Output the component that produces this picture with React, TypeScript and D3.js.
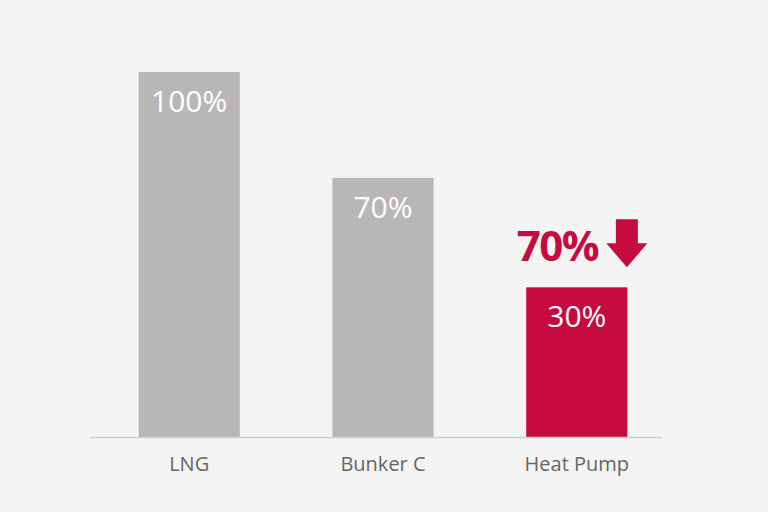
import { useEffect, useRef } from "react"
import * as d3 from "d3"

// categories and values
const CATEGORIES = ["LNG", "Bunker C", "Heat Pump"]
const VALUE_LABELS = ["100%", "70%", "30%"]
// drawn bar heights (the picture's bars are not to scale with their labels)
const BAR_HEIGHTS = [100, 71, 41]
const REDUCTION_LABEL = "70%"

const GRAY = "#b8b6b6"
const RED = "#c60c3f"
const BG = "#f4f4f4"
const TEXT = "#666666"
const FONT = "'Open Sans', 'Noto Sans', sans-serif"

export default function App() {
  const ref = useRef<SVGSVGElement>(null)

  useEffect(() => {
    if (!ref.current) return
    const W = 768
    const H = 512
    const svg = d3.select(ref.current)
    svg.selectAll("*").remove()
    svg.attr("width", W).attr("height", H).attr("viewBox", `0 0 ${W} ${H}`)

    svg.append("rect").attr("width", W).attr("height", H).attr("fill", BG)

    const x = d3.scaleBand<string>().domain(CATEGORIES).range([46, 720]).paddingInner(0.478).paddingOuter(0.478)
    const y = d3.scaleLinear().domain([0, 100]).range([437, 72])

    // Bars
    svg
      .append("g")
      .selectAll("rect")
      .data(CATEGORIES)
      .join("rect")
      .attr("x", (d) => x(d)!)
      .attr("width", x.bandwidth())
      .attr("y", (_, i) => y(BAR_HEIGHTS[i]))
      .attr("height", (_, i) => y(0) - y(BAR_HEIGHTS[i]))
      .attr("fill", (_, i) => (i === CATEGORIES.length - 1 ? RED : GRAY))

    // Baseline
    svg
      .append("line")
      .attr("x1", 90)
      .attr("x2", 662)
      .attr("y1", y(0) + 0.5)
      .attr("y2", y(0) + 0.5)
      .attr("stroke", "#cfcfcf")
      .attr("stroke-width", 1.5)

    // Value labels inside the bars
    svg
      .append("g")
      .selectAll("text")
      .data(CATEGORIES)
      .join("text")
      .attr("x", (d) => x(d)! + x.bandwidth() / 2)
      .attr("y", (_, i) => y(BAR_HEIGHTS[i]) + 40)
      .attr("text-anchor", "middle")
      .attr("font-family", FONT)
      .attr("font-size", 30)
      .attr("fill", "#fff")
      .text((_, i) => VALUE_LABELS[i])

    // Category labels
    svg
      .append("g")
      .selectAll("text")
      .data(CATEGORIES)
      .join("text")
      .attr("x", (d) => x(d)! + x.bandwidth() / 2)
      .attr("y", 471)
      .attr("text-anchor", "middle")
      .attr("font-family", FONT)
      .attr("font-size", 20)
      .attr("fill", TEXT)
      .text((d) => d)

    // Reduction callout above the heat pump bar
    const last = CATEGORIES[CATEGORIES.length - 1]
    const bx = x(last)!
    const top = y(BAR_HEIGHTS[BAR_HEIGHTS.length - 1])
    svg
      .append("text")
      .attr("x", bx + 72)
      .attr("y", top - 26)
      .attr("text-anchor", "end")
      .attr("font-family", FONT)
      .attr("font-size", 42)
      .attr("font-weight", 700)
      .attr("letter-spacing", "-1.5")
      .attr("fill", RED)
      .text(REDUCTION_LABEL)

    const ax = bx + x.bandwidth() - 0.5
    const ay = top - 68
    svg
      .append("path")
      .attr(
        "d",
        `M${ax - 11},${ay} L${ax + 11},${ay} L${ax + 11},${ay + 24} L${ax + 20.5},${ay + 24} L${ax},${ay + 48} L${ax - 20.5},${ay + 24} L${ax - 11},${ay + 24} Z`
      )
      .attr("fill", RED)
  }, [])

  return <svg ref={ref} style={{ position: "absolute", left: 0, top: 0, display: "block" }} />
}
